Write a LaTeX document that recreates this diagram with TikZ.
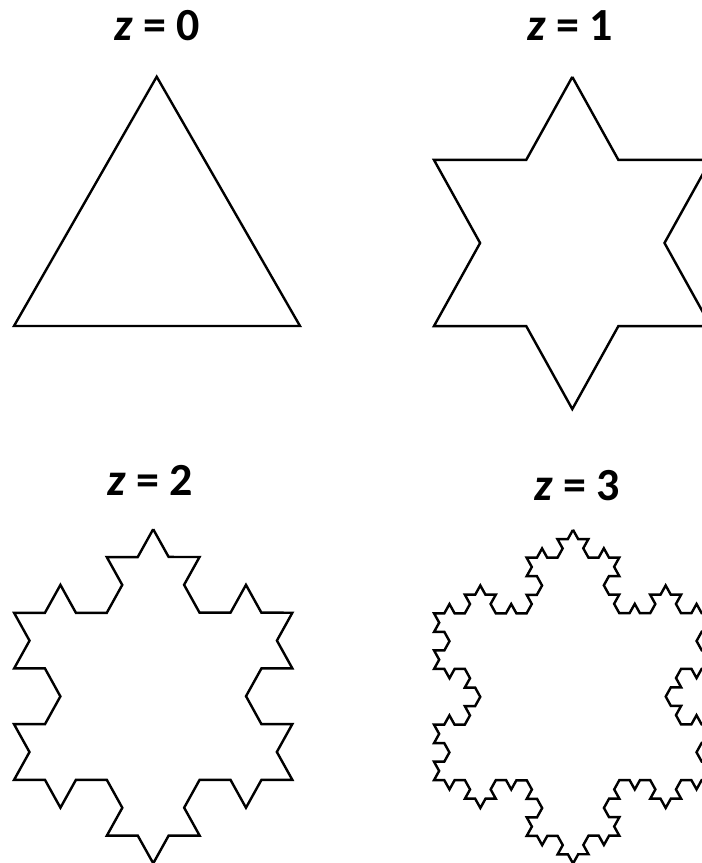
\documentclass[tikz,border=0pt]{standalone}
\usepackage{fontspec}
\setmainfont{Carlito}
\usetikzlibrary{decorations.fractals}
\tikzset{flake/.style={draw=black,line width=2.4pt,line join=miter},
 zlab/.style={font=\fontsize{46}{50}\selectfont\bfseries,anchor=base,inner sep=0pt}}
\newcommand{\zval}[1]{\textit{z} = #1}

\begin{document}
\begin{tikzpicture}[x=1pt,y=-1pt,decoration=Koch snowflake]
\useasboundingbox (0,0) rectangle (702,863);
% labels
\node[zlab] (lab0) at (157,40.7) {\zval{0}};
\node[zlab] (lab1) at (570.5,40.7) {\zval{1}};
\node[zlab] (lab2) at (150.5,495.7) {\zval{2}};
\node[zlab] (lab3) at (577.5,500) {\zval{3}};
% z = 0
\draw[flake] (156.7,76.7) -- (300,326) -- (14,326) -- cycle;
% z = 1
\begin{scope}[transform canvas={shift={(572.3,243)},yscale=1.04}]
\draw[flake] decorate{(0,-159.7) -- (138.3,79.85) -- (-138.3,79.85) -- cycle};
\end{scope}
% z = 2
\begin{scope}[transform canvas={shift={(153.2,696.3)},yscale=1.04}]
\draw[flake] decorate{decorate{(0,-160.7) -- (139.15,80.35) -- (-139.15,80.35) -- cycle}};
\end{scope}
% z = 3
\begin{scope}[transform canvas={shift={(573,696.7)},yscale=1.04}]
\draw[flake] decorate{decorate{decorate{(0,-160.5) -- (139,80.25) -- (-139,80.25) -- cycle}}};
\end{scope}
\end{tikzpicture}
\end{document}
